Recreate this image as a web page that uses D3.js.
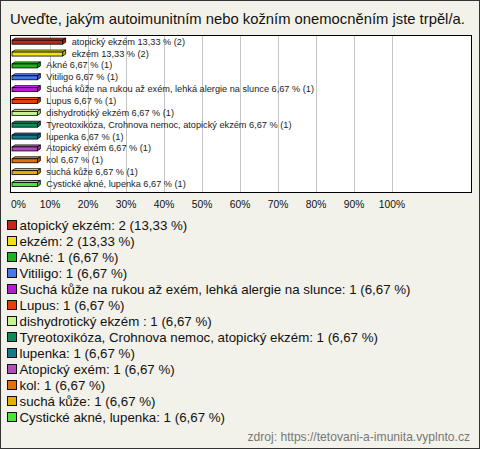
<!DOCTYPE html>
<html><head><meta charset="utf-8">
<script src="https://cdn.jsdelivr.net/npm/d3@7"></script>
<style>body{margin:0;padding:0;background:#fff}</style>
</head><body>
<script>
const title = "Uveďte, jakým autoimunitním nebo kožním onemocněním jste trpěl/a.";
const categories = ["atopický ekzém","ekzém","Akné","Vitiligo","Suchá kůže na rukou až exém, lehká alergie na slunce","Lupus","dishydrotický ekzém ","Tyreotoxikóza, Crohnova nemoc, atopický ekzém","lupenka","Atopický exém","kol","suchá kůže","Cystické akné, lupenka"];
const counts = [2,2,1,1,1,1,1,1,1,1,1,1,1];
const percents = [13.33,13.33,6.67,6.67,6.67,6.67,6.67,6.67,6.67,6.67,6.67,6.67,6.67];
const colors = ["#c0281c","#f2e010","#20b020","#4a78e0","#b020c8","#e0400c","#c8f490","#108858","#18788c","#b050b8","#e0700c","#e0b00c","#50e040"];
const ticks = [0,10,20,30,40,50,60,70,80,90,100];
const source = "zdroj: https://tetovani-a-imunita.vyplnto.cz";

const W=480,H=449;
const FONT="Liberation Sans, Arial";
const svg=d3.select("body").append("svg").attr("width",W).attr("height",H);
svg.append("rect").attr("x",0.5).attr("y",0.5).attr("width",W-1).attr("height",H-1).attr("fill","#f3f2ea").attr("stroke","#333");
const tt=svg.append("text").attr("x",10).attr("y",24).attr("font-family",FONT).attr("font-size",15).attr("fill","#111").text(title);
const tw=tt.node().getComputedTextLength();
tt.attr("font-size",15*455/tw);

const box={x:10,y:35,w:461,h:157};
svg.append("rect").attr("x",box.x+0.5).attr("y",box.y+0.5).attr("width",box.w).attr("height",box.h).attr("fill","#fff").attr("stroke","#000");
const x=d3.scaleLinear().domain([0,100]).range([12,392]);
const y=d3.scalePoint().domain(d3.range(categories.length)).range([41.7,184]);
svg.append("g").selectAll("line").data(ticks.slice(1)).join("line")
  .attr("x1",d=>Math.round(x(d))+0.5).attr("x2",d=>Math.round(x(d))+0.5).attr("y1",box.y+1).attr("y2",box.y+box.h)
  .attr("stroke","#c4c4c4");
svg.append("g").selectAll("text").data(ticks).join("text")
  .attr("x",d=>d===0?11:x(d)).attr("y",208).attr("text-anchor",d=>d===0?"start":"middle")
  .attr("font-family",FONT).attr("font-size",10.3).attr("fill","#111").text(d=>d+"%");

const bars=svg.append("g");
categories.forEach((c,i)=>{
  const x0=x(0),x1=x(percents[i]),cy=y(i);
  const t=cy-1.5,b=cy+2.5,dx=3,dy=2;
  const col=d3.color(colors[i]);
  bars.append("path").attr("d",`M${x0},${t}L${x0+dx},${t-dy}L${x1+dx},${t-dy}L${x1},${t}Z`).attr("fill",col.brighter(0.6)).attr("stroke","#000").attr("stroke-width",0.8);
  bars.append("path").attr("d",`M${x1},${t}L${x1+dx},${t-dy}L${x1+dx},${b-dy}L${x1},${b}Z`).attr("fill",col.darker(0.6)).attr("stroke","#000").attr("stroke-width",0.8);
  bars.append("rect").attr("x",x0).attr("y",t).attr("width",x1-x0).attr("height",b-t).attr("fill",col).attr("stroke","#000").attr("stroke-width",0.8);
  bars.append("text").attr("x",x1+9).attr("y",cy+3).attr("font-family",FONT).attr("font-size",9.2).attr("fill","#222")
    .text(c.trimEnd()+(c.endsWith(" ")?"  ":" ")+percents[i].toFixed(2).replace(".",",")+" % ("+counts[i]+")");
});

const leg=svg.append("g");
categories.forEach((c,i)=>{
  const cy=225+i*16;
  leg.append("rect").attr("x",7.5).attr("y",cy-4.5).attr("width",9).attr("height",9).attr("fill",colors[i]).attr("stroke","#111");
  leg.append("text").attr("x",19.5).attr("y",cy+5).attr("font-family",FONT).attr("font-size",13.3).attr("fill","#111")
    .text(c+": "+counts[i]+" ("+percents[i].toFixed(2).replace(".",",")+" %)");
});
svg.append("text").attr("x",470).attr("y",441).attr("text-anchor","end").attr("font-family",FONT).attr("font-size",12.1).attr("fill","#777").text(source);
</script>
</body></html>
